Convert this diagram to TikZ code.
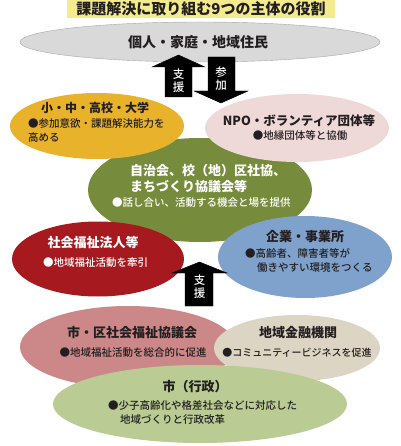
\documentclass[tikz,border=0pt]{standalone}
\usepackage{fontspec}
\setmainfont{Noto Sans CJK JP}
\newfontfamily\medfont{Noto Sans CJK JP Medium}
\usetikzlibrary{shapes.geometric, positioning}

\definecolor{ink}{HTML}{231F20}
\definecolor{titlebar}{HTML}{F4EB8E}
\definecolor{people}{HTML}{D9D9D9}
\definecolor{school}{HTML}{E8B22A}
\definecolor{npo}{HTML}{EED8D8}
\definecolor{council}{HTML}{768B3B}
\definecolor{welfare}{HTML}{A6191F}
\definecolor{company}{HTML}{7FA2CD}
\definecolor{shakyo}{HTML}{CC8888}
\definecolor{bank}{HTML}{DCD5C3}
\definecolor{city}{HTML}{BACB93}

\begin{document}
\begin{tikzpicture}[
    x=1pt, y=-1pt,
    blob/.style={ellipse, inner sep=0pt, outer sep=0pt},
    head/.style={font=\fontsize{13}{16}\selectfont\bfseries, text=ink, inner sep=0pt,
                 align=left},
    note/.style={font=\fontsize{10.5}{14.5}\selectfont\medfont, text=ink, inner sep=0pt,
                 align=left},
    blockarrow/.style={fill=black},
    arrowtext/.style={font=\fontsize{11.5}{13}\selectfont\medfont, text=white,
                      inner sep=0pt, align=center},
]
    \useasboundingbox (0,0) rectangle (400,446);

    %==================== TITLE ====================
    \node[fill=titlebar, minimum width=268pt, minimum height=18pt, inner sep=0pt,
          font=\fontsize{15}{18}\selectfont\bfseries, text=ink] (title) at (201,9)
        {課題解決に取り組む9つの主体の役割};

    %==================== residents ====================
    \node[blob, fill=people, draw=black!35, thin, minimum width=360pt,
          minimum height=40pt] (people) at (200,42) {};
    \node[head, font=\fontsize{14}{16}\selectfont\bfseries] (peopletxt) at (198,42)
        {個人・家庭・地域住民};

    % support / participation arrows
    \draw[blockarrow] (165,97) -- (165,67) -- (152,67) -- (178.5,55) -- (205,67)
        -- (192,67) -- (192,97) -- cycle;
    \draw[blockarrow] (208,57) -- (208,91) -- (194,91) -- (221,103) -- (248,91)
        -- (235,91) -- (235,57) -- cycle;
    \node[arrowtext] (shien1) at (178.5,80.5) {支\\援};
    \node[arrowtext] (sanka) at (221,78.5) {参\\加};

    %==================== middle ring ====================
    \node[blob, fill=council, minimum width=224pt, minimum height=104pt]
        (council) at (200,190) {};
    \node[blob, fill=school, minimum width=174pt, minimum height=66pt]
        (school) at (97,126) {};
    \node[blob, fill=npo, minimum width=184pt, minimum height=68pt]
        (npo) at (297,128) {};

    \node[head, font=\fontsize{12}{15}\selectfont\bfseries] (schooltxt) at (95,108)
        {小・中・高校・大学};
    \node[note, anchor=north west] (schoolnote) at (28,118)
        {●参加意欲・課題解決能力を\\高める};

    \node[head, font=\fontsize{12.5}{15}\selectfont\bfseries] (npotxt) at (299,121)
        {NPO・ボランティア団体等};
    \node[note] (nponote) at (300,136) {●地縁団体等と協働};

    \node[head, text=white, anchor=north west] (counciltxt) at (130,164)
        {自治会、校（地）区社協、\\まちづくり協議会等};
    \node[note, text=white, anchor=west] (councilnote) at (112,203)
        {●話し合い、活動する機会と場を提供};

    %==================== welfare corp / companies ====================
    \node[blob, fill=welfare, minimum width=172pt, minimum height=75pt]
        (welfare) at (98,259) {};
    \node[blob, fill=company, minimum width=174pt, minimum height=82pt]
        (company) at (305,257) {};

    \node[head, text=white] (welfaretxt) at (93,243) {社会福祉法人等};
    \node[note, text=white, anchor=west] (welfarenote) at (43,263)
        {●地域福祉活動を牽引};

    \node[head] (companytxt) at (305,237) {企業・事業所};
    \node[note, anchor=north west] (companynote) at (245,248)
        {●高齢者、障害者等が\\\hspace*{12pt}働きやすい環境をつくる};

    % support arrow from below
    \draw[blockarrow] (185,306) -- (185,273) -- (172,273) -- (199.5,262) -- (227,273)
        -- (213,273) -- (213,306) -- cycle;
    \node[arrowtext] (shien2) at (199.5,286.5) {支\\援};

    %==================== bottom layer ====================
    \node[blob, fill=shakyo, minimum width=216pt, minimum height=82pt]
        (shakyo) at (128,347) {};
    \node[blob, fill=bank, minimum width=166pt, minimum height=66pt]
        (bank) at (297,348) {};
    \node[blob, fill=city, minimum width=294pt, minimum height=78pt]
        (city) at (200,404) {};

    \node[head] (shakyotxt) at (132,333) {市・区社会福祉協議会};
    \node[note] (shakyonote) at (133,353) {●地域福祉活動を総合的に促進};

    \node[head] (banktxt) at (298,333) {地域金融機関};
    \node[note, font=\fontsize{10}{14}\selectfont\medfont] (banknote) at (297,353)
        {●コミュニティービジネスを促進};

    \node[head] (citytxt) at (195,387) {市（行政）};
    \node[note, anchor=north west] (citynote) at (108,400)
        {●少子高齢化や格差社会などに対応した\\\hspace*{12pt}地域づくりと行政改革};

\end{tikzpicture}
\end{document}
